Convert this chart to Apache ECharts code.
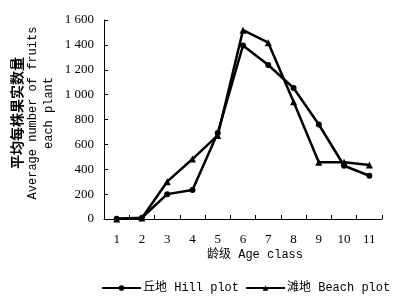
<!DOCTYPE html>
<html><head><meta charset="utf-8">
<script src="https://cdn.jsdelivr.net/npm/echarts@6/dist/echarts.min.js"></script>
<style>html,body{margin:0;padding:0;background:#fff}#c{width:402px;height:304px}</style>
</head><body><div id="c"></div>
<script>
const categories = ['1','2','3','4','5','6','7','8','9','10','11'];
const hillPlot = [2, 10, 200, 233, 692, 1395, 1238, 1053, 760, 428, 348];
const beachPlot = [0, 8, 300, 482, 672, 1518, 1418, 943, 456, 457, 434];
const yTicks = [0, 200, 400, 600, 800, 1000, 1200, 1400, 1600];
const hillName = '丘地 Hill plot';
const beachName = '滩地 Beach plot';
const xName = '龄级 Age class';
const yNameLines = ['平均每株果实数量', 'Average number of fruits', 'each plant'];

const mono = '"Liberation Mono", "Noto Sans CJK SC", monospace';
const serif = '"Liberation Serif", serif';
const chart = echarts.init(document.getElementById('c'));
chart.setOption({
  animation: false,
  backgroundColor: '#fff',
  grid: { left: 104, right: 20, top: 20, bottom: 85, containLabel: false },
  xAxis: {
    type: 'category', data: categories, boundaryGap: true,
    axisLine: { show: true, lineStyle: { color: '#000', width: 1 } },
    axisTick: { show: true, inside: true, length: 4, interval: 0, lineStyle: { color: '#000' } },
    axisLabel: { color: '#000', fontFamily: serif, fontSize: 13, margin: 14, interval: 0 },
    splitLine: { show: false }
  },
  yAxis: {
    type: 'value', min: yTicks[0], max: yTicks[yTicks.length - 1], interval: 200,
    axisLine: { show: true, lineStyle: { color: '#000', width: 1 } },
    axisTick: { show: true, inside: true, length: 4, lineStyle: { color: '#000' } },
    axisLabel: { color: '#000', fontFamily: serif, fontSize: 13, margin: 10,
      formatter: v => v >= 1000 ? Math.floor(v / 1000) + ' ' + String(v % 1000).padStart(3, '0') : String(v) },
    splitLine: { show: false }
  },
  legend: {
    orient: 'horizontal', bottom: 8, left: 99, width: 303, padding: 2,
    itemWidth: 39, itemHeight: 7, itemGap: 6,
    textStyle: { color: '#000', fontFamily: mono, fontSize: 12, padding: [0, 0, 0, -3] },
    data: [hillName, beachName]
  },
  graphic: [
    { type: 'text', x: 255, y: 255, style: { text: xName, fill: '#000', font: '12px ' + mono, textAlign: 'center', textVerticalAlign: 'middle' } },
    { type: 'text', x: 17, y: 113, rotation: Math.PI / 2, style: { text: yNameLines[0], fill: '#000', font: 'bold 14px "Noto Sans CJK SC"', textAlign: 'center', textVerticalAlign: 'middle' } },
    { type: 'text', x: 33, y: 113, rotation: Math.PI / 2, style: { text: yNameLines[1], fill: '#000', font: '12px ' + mono, textAlign: 'center', textVerticalAlign: 'middle' } },
    { type: 'text', x: 49, y: 113, rotation: Math.PI / 2, style: { text: yNameLines[2], fill: '#000', font: '12px ' + mono, textAlign: 'center', textVerticalAlign: 'middle' } }
  ],
  series: [
    { name: hillName, type: 'line', data: hillPlot, symbol: 'circle', symbolSize: 6,
      lineStyle: { color: '#000', width: 2.5 }, itemStyle: { color: '#000' } },
    { name: beachName, type: 'line', data: beachPlot, symbol: 'triangle', symbolSize: 7,
      lineStyle: { color: '#000', width: 2.5 }, itemStyle: { color: '#000' } }
  ]
});
</script></body></html>
